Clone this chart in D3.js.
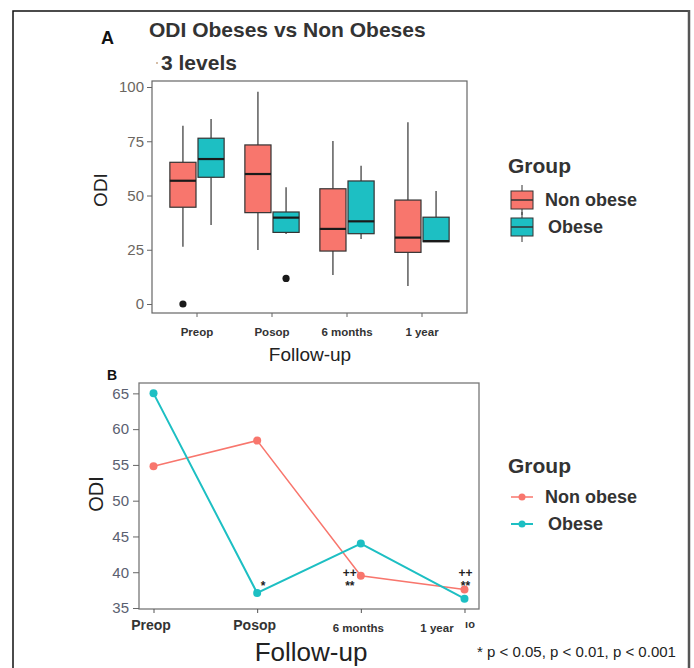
<!DOCTYPE html>
<html>
<head>
<meta charset="utf-8">
<script src="https://cdn.jsdelivr.net/npm/d3@7/dist/d3.min.js"></script>
<style>
  body { margin: 0; background: #fff; }
  svg { display: block; font-family: "Liberation Sans", Arial, sans-serif; }
</style>
</head>
<body>
<svg id="chart"></svg>
<script>
// ---- data ----
var categories = ["Preop", "Posop", "6 months", "1 year"];
var groups = ["Non obese", "Obese"];
var colors = ["#F8766D", "#1DBFC3"];

// box stats: [lower whisker, q1, median, q3, upper whisker]
var nonObeseBox = [
  [26.4, 44.6, 56.8, 65.3, 82.2],
  [24.9, 42.1, 59.9, 73.3, 97.8],
  [13.4, 24.4, 34.6, 53.1, 75.1],
  [8.3, 23.8, 30.6, 47.9, 83.7]
];
var obeseBox = [
  [36.4, 58.4, 66.8, 76.4, 85.3],
  [32.3, 33.0, 39.8, 42.4, 53.8],
  [30.0, 32.4, 38.1, 56.7, 63.7],
  [28.7, 28.7, 29.0, 40.0, 52.1]
];
// outliers: [category, group, value]
var outliers = [["Preop", "Non obese", 0], ["Posop", "Obese", 11.8]];

var nonObeseMean = [54.8, 58.4, 39.5, 37.6];
var obeseMean = [65.0, 37.1, 44.0, 36.3];

var ticksA = [0, 25, 50, 75, 100];
var ticksB = [35, 40, 45, 50, 55, 60, 65];

// significance marks: [category, text, line]
var marks = [["Posop", "*", 1], ["6 months", "++", 0], ["6 months", "**", 1], ["1 year", "++", 0], ["1 year", "**", 1]];

// ---- layout ----
var width = 694, height = 668;
var svg = d3.select("#chart").attr("width", width).attr("height", height);

// outer frame
svg.append("path").attr("d", "M13,668 V11 H689").attr("fill", "none").attr("stroke", "#111").attr("stroke-width", 1.5);
svg.append("line").attr("x1", 689).attr("x2", 689).attr("y1", 10).attr("y2", 668).attr("stroke", "#555").attr("stroke-width", 2.5);

// ===== Panel A =====
var pA = {left: 152, right: 467, top: 81, bottom: 313};

svg.append("text").attr("x", 101).attr("y", 44).attr("font-size", 18).attr("font-weight", "bold").attr("fill", "#111").text("A");
svg.append("text").attr("x", 149).attr("y", 37).attr("font-size", 21).attr("font-weight", "bold").attr("fill", "#333").text("ODI Obeses vs Non Obeses");
svg.append("circle").attr("cx", 157).attr("cy", 63).attr("r", 1).attr("fill", "#c9a88a");
svg.append("text").attr("x", 161).attr("y", 70).attr("font-size", 21).attr("font-weight", "bold").attr("fill", "#333").text("3 levels");

var xA = d3.scaleBand().domain(categories).range([pA.left, pA.right]).paddingInner(0).paddingOuter(0.1);
var yA = d3.scaleLinear().domain([0, 100]).range([304, 87]);
var step = xA.step();
var xInner = d3.scaleBand().domain(groups).range([-0.375 * step, 0.375 * step]);

svg.append("rect").attr("x", pA.left).attr("y", pA.top).attr("width", pA.right - pA.left).attr("height", pA.bottom - pA.top)
  .attr("fill", "none").attr("stroke", "#666").attr("stroke-width", 1.2);

var yAxisA = svg.append("g").attr("transform", "translate(" + pA.left + ",0)")
  .call(d3.axisLeft(yA).tickValues(ticksA).tickSize(5).tickPadding(3));
yAxisA.select(".domain").remove();
yAxisA.selectAll("line").attr("stroke", "#666");
yAxisA.selectAll("text").attr("font-size", 15).attr("fill", "#6b6660").attr("font-family", "Liberation Sans, Arial, sans-serif");

var xAxisA = svg.append("g").attr("transform", "translate(0," + pA.bottom + ")")
  .call(d3.axisBottom(xA).tickSize(4).tickPadding(11));
xAxisA.select(".domain").remove();
xAxisA.selectAll("line").attr("stroke", "#666");
xAxisA.selectAll("text").attr("font-size", 11.5).attr("font-weight", "bold").attr("fill", "#333").attr("font-family", "Liberation Sans, Arial, sans-serif");

svg.append("text").attr("transform", "translate(107,190) rotate(-90)").attr("text-anchor", "middle")
  .attr("font-size", 19).attr("fill", "#222").text("ODI");
svg.append("text").attr("x", 310).attr("y", 361).attr("text-anchor", "middle")
  .attr("font-size", 19).attr("fill", "#222").text("Follow-up");

var boxData = [];
categories.forEach(function(c, i) {
  boxData.push({cat: c, group: groups[0], s: nonObeseBox[i], color: colors[0]});
  boxData.push({cat: c, group: groups[1], s: obeseBox[i], color: colors[1]});
});

var boxes = svg.append("g").selectAll("g").data(boxData).enter().append("g")
  .attr("transform", function(d) { return "translate(" + (xA(d.cat) + xA.bandwidth() / 2) + ",0)"; });

var bw = xInner.bandwidth();
boxes.append("line").attr("x1", function(d) { return xInner(d.group) + bw / 2; }).attr("x2", function(d) { return xInner(d.group) + bw / 2; })
  .attr("y1", function(d) { return yA(d.s[4]); }).attr("y2", function(d) { return yA(d.s[3]); }).attr("stroke", "#333").attr("stroke-width", 1.2);
boxes.append("line").attr("x1", function(d) { return xInner(d.group) + bw / 2; }).attr("x2", function(d) { return xInner(d.group) + bw / 2; })
  .attr("y1", function(d) { return yA(d.s[1]); }).attr("y2", function(d) { return yA(d.s[0]); }).attr("stroke", "#333").attr("stroke-width", 1.2);
boxes.append("rect").attr("x", function(d) { return xInner(d.group) + 1; }).attr("width", bw - 2)
  .attr("y", function(d) { return yA(d.s[3]); }).attr("height", function(d) { return yA(d.s[1]) - yA(d.s[3]); })
  .attr("fill", function(d) { return d.color; }).attr("stroke", "#333").attr("stroke-width", 1.2);
boxes.append("line").attr("x1", function(d) { return xInner(d.group) + 1; }).attr("x2", function(d) { return xInner(d.group) + bw - 1; })
  .attr("y1", function(d) { return yA(d.s[2]); }).attr("y2", function(d) { return yA(d.s[2]); }).attr("stroke", "#1a1a1a").attr("stroke-width", 2.2);

svg.append("g").selectAll("circle").data(outliers).enter().append("circle")
  .attr("cx", function(d) { return xA(d[0]) + xA.bandwidth() / 2 + xInner(d[1]) + bw / 2; })
  .attr("cy", function(d) { return yA(d[2]); }).attr("r", 3.6).attr("fill", "#1a1a1a");

// legend A
svg.append("text").attr("x", 508).attr("y", 173).attr("font-size", 21).attr("font-weight", "bold").attr("fill", "#333").text("Group");
var legA = svg.append("g").selectAll("g").data(groups).enter().append("g")
  .attr("transform", function(d, i) { return "translate(511," + (200 + i * 27) + ")"; });
legA.append("line").attr("x1", 11).attr("x2", 11).attr("y1", -15).attr("y2", 15).attr("stroke", "#333").attr("stroke-width", 1);
legA.append("rect").attr("x", 0).attr("y", -9).attr("width", 22).attr("height", 18)
  .attr("fill", function(d, i) { return colors[i]; }).attr("stroke", "#333").attr("stroke-width", 1);
legA.append("line").attr("x1", 0).attr("x2", 22).attr("y1", 0).attr("y2", 0).attr("stroke", "#333").attr("stroke-width", 1.5);
legA.append("text").attr("x", function(d, i) { return i ? 37 : 34; }).attr("y", 6).attr("font-size", 18).attr("font-weight", "bold").attr("fill", "#333").text(function(d) { return d; });

// ===== Panel B =====
var pB = {left: 139, right: 479, top: 383, bottom: 609};

svg.append("text").attr("x", 107).attr("y", 380).attr("font-size", 14).attr("font-weight", "bold").attr("fill", "#111").text("B");

var xB = d3.scalePoint().domain(categories).range([pB.left, pB.right]).padding(0.14);
var yB = d3.scaleLinear().domain([35, 66.45]).range([608, pB.top]);

svg.append("rect").attr("x", pB.left).attr("y", pB.top).attr("width", pB.right - pB.left).attr("height", pB.bottom - pB.top)
  .attr("fill", "none").attr("stroke", "#777").attr("stroke-width", 1.3);

var yAxisB = svg.append("g").attr("transform", "translate(" + pB.left + ",0)")
  .call(d3.axisLeft(yB).tickValues(ticksB).tickSize(6).tickPadding(4));
yAxisB.select(".domain").remove();
yAxisB.selectAll("line").attr("stroke", "#666");
yAxisB.selectAll("text").attr("font-size", 15).attr("fill", "#5a6070").attr("font-family", "Liberation Sans, Arial, sans-serif");

var xAxisB = svg.append("g").attr("transform", "translate(0," + pB.bottom + ")")
  .call(d3.axisBottom(xB).tickSize(4).tickPadding(9));
xAxisB.select(".domain").remove();
xAxisB.selectAll("line").attr("stroke", "#555");
xAxisB.selectAll("text").attr("font-weight", "bold").attr("fill", "#333").attr("font-family", "Liberation Sans, Arial, sans-serif")
  .attr("font-size", function(d) { return (d === "Preop" || d === "Posop") ? 14 : 11.5; })
  .attr("dy", function(d) { return (d === "Preop" || d === "Posop") ? "0.6em" : "0.85em"; })
  .attr("dx", function(d) { return d === "1 year" ? -28 : -3; });

svg.append("text").attr("x", 470).attr("y", 628).attr("text-anchor", "middle").attr("font-size", 11).attr("font-weight", "bold").attr("fill", "#333").text("ıo");

svg.append("text").attr("transform", "translate(103,494) rotate(-90)").attr("text-anchor", "middle")
  .attr("font-size", 20).attr("fill", "#222").text("ODI");
svg.append("text").attr("x", 311).attr("y", 661).attr("text-anchor", "middle")
  .attr("font-size", 26).attr("fill", "#222").text("Follow-up");

var line = d3.line().x(function(d, i) { return xB(categories[i]); }).y(function(d) { return yB(d); });
var series = [nonObeseMean, obeseMean];
var widths = [1.5, 2];
series.forEach(function(s, k) {
  svg.append("path").datum(s).attr("d", line).attr("fill", "none").attr("stroke", colors[k]).attr("stroke-width", widths[k]);
  svg.append("g").selectAll("circle").data(s).enter().append("circle")
    .attr("cx", function(d, i) { return xB(categories[i]); }).attr("cy", function(d) { return yB(d); })
    .attr("r", 4).attr("fill", colors[k]);
});

svg.append("g").selectAll("text").data(marks).enter().append("text")
  .attr("x", function(d) { return xB(d[0]) + (d[0] === "Posop" ? 6 : (d[0] === "6 months" ? -11 : 1)); })
  .attr("y", function(d) { return d[2] ? 590 : 577; })
  .attr("text-anchor", "middle").attr("font-size", 12).attr("font-weight", "bold").attr("fill", "#222")
  .text(function(d) { return d[1]; });

// legend B
svg.append("text").attr("x", 508).attr("y", 473).attr("font-size", 21).attr("font-weight", "bold").attr("fill", "#333").text("Group");
var legB = svg.append("g").selectAll("g").data(groups).enter().append("g")
  .attr("transform", function(d, i) { return "translate(511," + (497 + i * 27) + ")"; });
legB.append("line").attr("x1", 0).attr("x2", 22).attr("stroke", function(d, i) { return colors[i]; }).attr("stroke-width", function(d, i) { return widths[i]; });
legB.append("circle").attr("cx", 11).attr("r", 3.5).attr("fill", function(d, i) { return colors[i]; });
legB.append("text").attr("x", function(d, i) { return i ? 37 : 34; }).attr("y", 6).attr("font-size", 18).attr("font-weight", "bold").attr("fill", "#333").text(function(d) { return d; });

// footnote
svg.append("text").attr("x", 477).attr("y", 657).attr("font-size", 15).attr("fill", "#222").text("* p < 0.05, p < 0.01, p < 0.001");
</script>
</body>
</html>
